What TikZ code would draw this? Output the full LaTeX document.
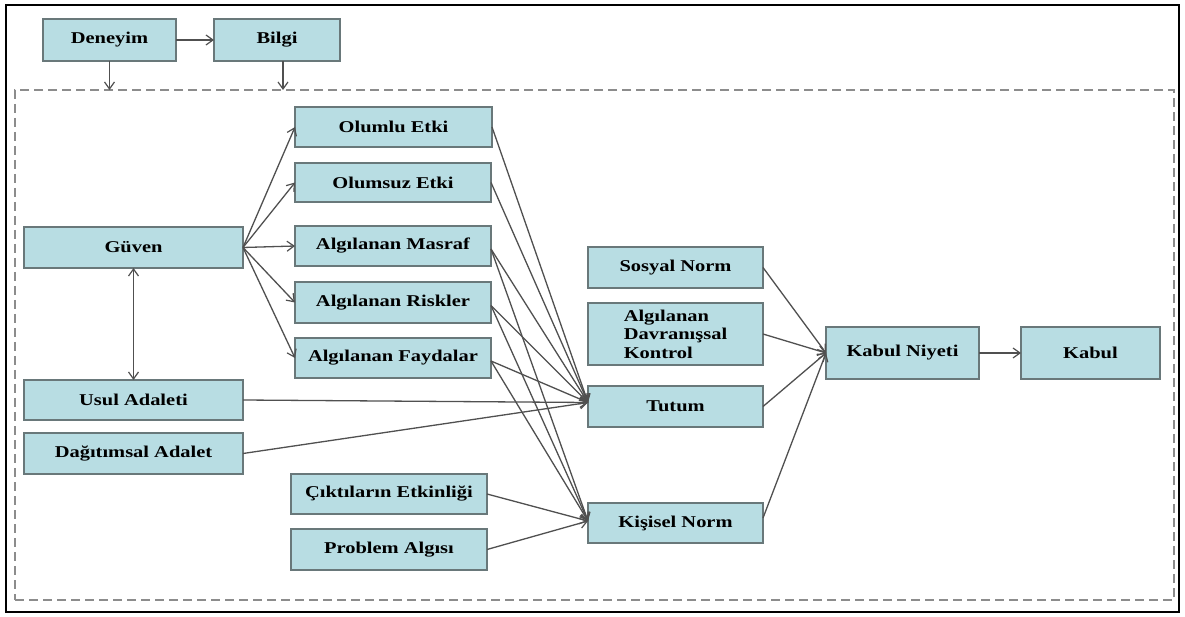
\documentclass[tikz,border=0pt]{standalone}
\usepackage{fontspec}
\setmainfont{Liberation Serif}[FakeStretch=1.24]
\usetikzlibrary{arrows.meta}
\definecolor{boxfill}{RGB}{184,221,227}
\definecolor{boxline}{RGB}{105,120,122}
\definecolor{wire}{RGB}{80,80,80}
\definecolor{zonedash}{RGB}{140,140,140}

% box: name, centre x, centre y, width, height, label
\newcommand\bx[6]{\node[box, minimum width=#4pt, minimum height=#5pt] (#1) at (#2,#3) {#6};}

\begin{document}
\begin{tikzpicture}[x=1pt,y=-1pt,
  box/.style={draw=boxline, line width=1.6pt, fill=boxfill, inner sep=2pt,
    outer sep=0pt, font=\bfseries\fontsize{16.5}{18.5}\selectfont, text=black},
  tip/.tip={Straight Barb[length=7pt,width=10pt,line width=1.2pt]},
  link/.style={draw=wire, line width=1.3pt, -tip},
  both/.style={draw=wire, line width=1.3pt, tip-tip},
  zonebox/.style={draw=zonedash, line width=2pt, dash pattern=on 9pt off 5pt,
    inner sep=0pt, outer sep=0pt},
]
\useasboundingbox (0,0) rectangle (1185,617);
\fill[white] (0,0) rectangle (1185,617);

% outer frame
\draw[line width=2.5pt, black] (6,5) rectangle (1179,612);

% dashed region holding the model
\node[zonebox, minimum width=1159pt, minimum height=510pt] (zone) at (594.5,345) {};

% top row
\bx{deneyim}{109.5}{40}{133}{42}{Deneyim}
\bx{bilgi}{277}{40}{126}{42}{Bilgi}

% left column
\bx{guven}{133.5}{247.5}{219}{41}{Güven}
\bx{usul}{133.5}{400}{219}{40}{Usul Adaleti}
\bx{dagitim}{133.5}{453.5}{219}{41}{Dağıtımsal Adalet}

% second column
\bx{olumlu}{393.5}{127}{197}{40}{Olumlu Etki}
\bx{olumsuz}{393}{182.5}{196}{39}{Olumsuz Etki}
\bx{masraf}{393}{246}{196}{40}{Algılanan Masraf}
\bx{riskler}{393}{302.5}{196}{41}{Algılanan Riskler}
\bx{faydalar}{393}{358}{196}{40}{Algılanan Faydalar}
\bx{cikti}{389}{494}{196}{40}{Çıktıların Etkinliği}
\bx{problem}{389}{549.5}{196}{41}{Problem Algısı}

% third column
\bx{sosyal}{675.5}{267.5}{175}{41}{Sosyal Norm}
\node[box, align=left, minimum width=175pt, minimum height=62pt] (adk) at (675.5,334)
  {Algılanan\\Davranışsal\\Kontrol};
\bx{tutum}{675.5}{406.5}{175}{41}{Tutum}
\bx{kisisel}{675.5}{523}{175}{40}{Kişisel Norm}

% outcome
\bx{niyet}{902.5}{353}{153}{52}{Kabul Niyeti}
\bx{kabul}{1090.5}{353}{139}{52}{Kabul}

% entry points
\coordinate (tin) at ([yshift=4pt]tutum.west);
\coordinate (kin) at ([yshift=2pt]kisisel.west);

% connectors
\draw[link] (deneyim) -- (bilgi);
\draw[link] (deneyim.south) -- (deneyim.south |- zone.north);
\draw[link] ([xshift=6pt]bilgi.south) -- ([xshift=6pt]bilgi.south |- zone.north);

\foreach \t in {olumlu,olumsuz,masraf,riskler,faydalar}
  \draw[link] (guven.east) -- (\t.west);
\draw[both] (guven.south) -- (usul.north);

\draw[link] (olumlu.east) -- (tin);
\draw[link] (olumsuz.east) -- (tin);
\foreach \s in {masraf,riskler,faydalar}{
  \draw[link] ([yshift=-3pt]\s.east) -- (tin);
  \draw[link] ([yshift=-3pt]\s.east) -- (kin);
}
\draw[link] (usul.east) -- (tin);
\draw[link] (dagitim.east) -- (tin);
\draw[link] (cikti.east) -- (kin);
\draw[link] (problem.east) -- (kin);

\draw[link] (sosyal.east) -- (niyet.west);
\draw[link] (adk.east) -- (niyet.west);
\draw[link] (tutum.east) -- (niyet.west);
\draw[link] ([yshift=5pt]kisisel.east) -- (niyet.west);
\draw[link] (niyet) -- (kabul);
\end{tikzpicture}
\end{document}
